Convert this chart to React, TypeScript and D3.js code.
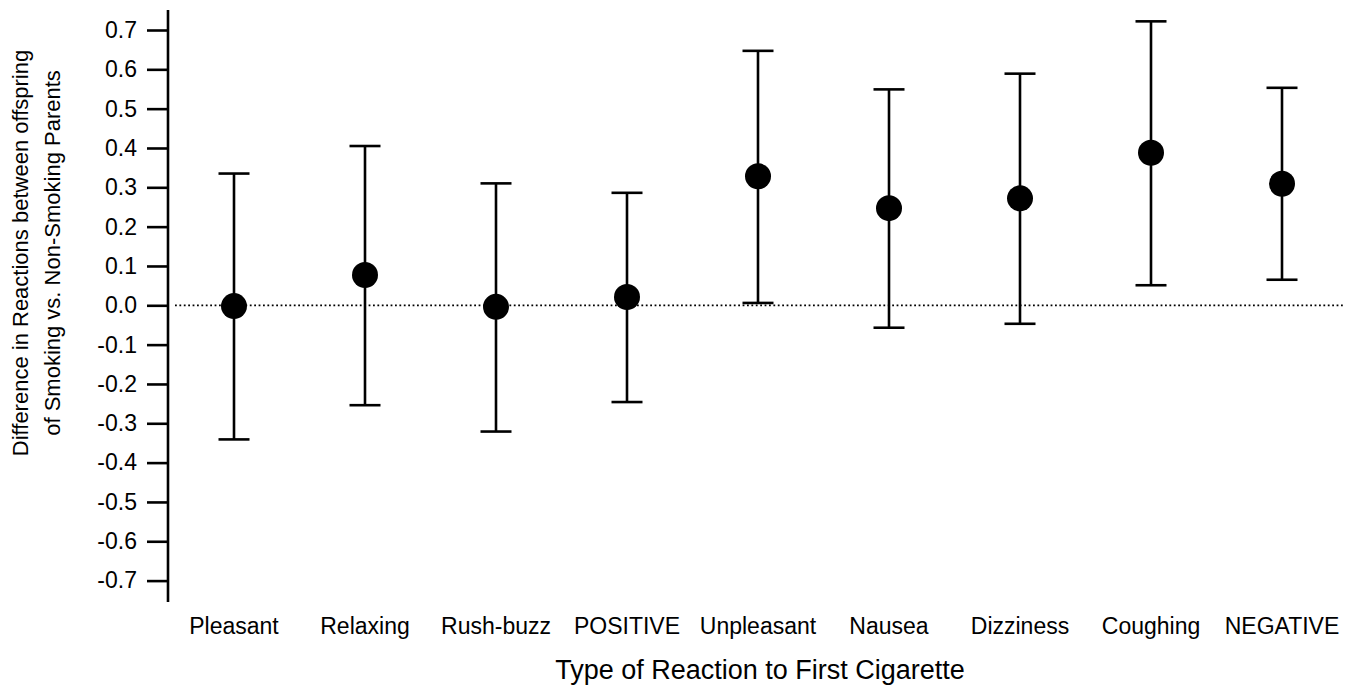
import React, { useEffect, useRef } from "react";
import * as d3 from "d3";

// reaction types on the x axis
const categories = [
  "Pleasant", "Relaxing", "Rush-buzz", "POSITIVE", "Unpleasant",
  "Nausea", "Dizziness", "Coughing", "NEGATIVE",
];
// point estimate and interval ends
const means = [-0.002, 0.077, -0.004, 0.021, 0.328, 0.247, 0.272, 0.388, 0.309];
const lows = [-0.341, -0.254, -0.321, -0.246, 0.006, -0.057, -0.047, 0.051, 0.065];
const highs = [0.335, 0.405, 0.31, 0.286, 0.647, 0.549, 0.589, 0.722, 0.553];

const tickValues = [0.7, 0.6, 0.5, 0.4, 0.3, 0.2, 0.1, 0, -0.1, -0.2, -0.3, -0.4, -0.5, -0.6, -0.7];
const tickLabels = ["0.7", "0.6", "0.5", "0.4", "0.3", "0.2", "0.1", "0.0", "-0.1", "-0.2", "-0.3", "-0.4", "-0.5", "-0.6", "-0.7"];

const W = 1359;
const H = 689;
const FONT = "'Liberation Sans', Arial, Helvetica, sans-serif";

export default function App() {
  const ref = useRef<SVGSVGElement>(null);

  useEffect(() => {
    document.body.style.margin = "0";
    const svg = d3.select(ref.current);
    svg.selectAll("*").remove();

    const data = categories.map((c, i) => ({ c, m: means[i], lo: lows[i], hi: highs[i] }));

    const x = d3.scalePoint<string>().domain(categories).range([234, 1282]);
    const y = d3.scaleLinear().domain([-0.7, 0.7]).range([580.6, 30]);

    // zero reference line
    svg.append("line")
      .attr("x1", 175).attr("x2", 1345)
      .attr("y1", y(0)).attr("y2", y(0))
      .attr("stroke", "#000").attr("stroke-width", 1.8)
      .attr("stroke-dasharray", "1.8,2.6");

    // y axis
    const yAxis = d3.axisLeft(y)
      .tickValues(tickValues)
      .tickSize(21)
      .tickPadding(10)
      .tickFormat((d, i) => tickLabels[i]);
    const ga = svg.append("g").attr("transform", "translate(168,0)").call(yAxis);
    ga.select(".domain").remove();
    ga.selectAll(".tick line").attr("stroke", "#000").attr("stroke-width", 2.6);
    ga.selectAll(".tick text")
      .attr("font-family", FONT).attr("font-size", 23).attr("fill", "#000");
    ga.append("line")
      .attr("x1", 0).attr("x2", 0).attr("y1", 10).attr("y2", 602)
      .attr("stroke", "#000").attr("stroke-width", 2.6);

    // error bars
    const g = svg.append("g");
    const bars = g.selectAll("g.bar").data(data).join("g").attr("class", "bar");
    bars.append("line")
      .attr("x1", d => x(d.c)!).attr("x2", d => x(d.c)!)
      .attr("y1", d => y(d.hi)).attr("y2", d => y(d.lo))
      .attr("stroke", "#000").attr("stroke-width", 2.6);
    bars.append("line")
      .attr("x1", d => x(d.c)! - 15.5).attr("x2", d => x(d.c)! + 15.5)
      .attr("y1", d => y(d.hi)).attr("y2", d => y(d.hi))
      .attr("stroke", "#000").attr("stroke-width", 2.6);
    bars.append("line")
      .attr("x1", d => x(d.c)! - 15.5).attr("x2", d => x(d.c)! + 15.5)
      .attr("y1", d => y(d.lo)).attr("y2", d => y(d.lo))
      .attr("stroke", "#000").attr("stroke-width", 2.6);
    bars.append("circle")
      .attr("cx", d => x(d.c)!).attr("cy", d => y(d.m))
      .attr("r", 13).attr("fill", "#000");

    // category labels
    svg.append("g").selectAll("text").data(categories).join("text")
      .attr("x", d => x(d)!).attr("y", 634)
      .attr("text-anchor", "middle")
      .attr("font-family", FONT).attr("font-size", 23)
      .text(d => d);

    // axis titles
    svg.append("text")
      .attr("x", 760).attr("y", 679)
      .attr("text-anchor", "middle")
      .attr("font-family", FONT).attr("font-size", 27)
      .text("Type of Reaction to First Cigarette");

    const yt = svg.append("text")
      .attr("transform", "translate(0,253) rotate(-90)")
      .attr("text-anchor", "middle")
      .attr("font-family", FONT).attr("font-size", 22);
    yt.append("tspan").attr("x", 0).attr("y", 28).text("Difference in Reactions between offspring");
    yt.append("tspan").attr("x", 0).attr("y", 60).text("of Smoking vs. Non-Smoking Parents");
  }, []);

  return <svg ref={ref} width={W} height={H} style={{ display: "block", background: "#fff" }} />;
}
